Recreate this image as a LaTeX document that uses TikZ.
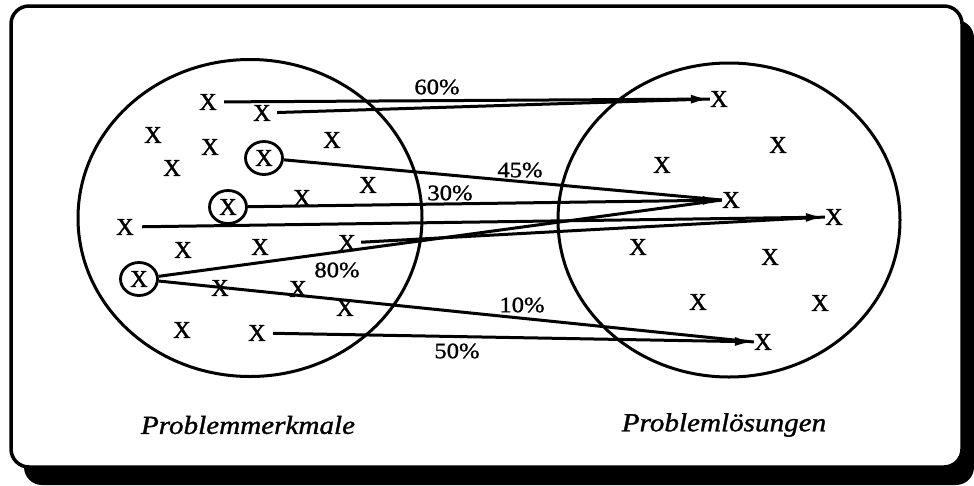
\documentclass[tikz,border=0pt]{standalone}
\usepackage{fontspec}
\setmainfont{Liberation Serif}
\newfontfamily\labfont{Liberation Serif}[FakeStretch=1.12,FakeBold=1.2]
\newfontfamily\xfont{Liberation Serif}[FakeBold=1.6]
\usetikzlibrary{shapes.geometric,arrows.meta}
\begin{document}
\begin{tikzpicture}[x=1pt,y=-1pt,
  xm/.style={inner sep=0.3pt, font=\xfont\fontsize{24}{24}\selectfont},
  cx/.style={xm, draw, ellipse, line width=2.8pt, minimum width=37pt, minimum height=33pt},
  setshape/.style={draw, ellipse, line width=3pt, inner sep=0pt},
  conn/.style={line width=3pt, -{Latex[length=19pt,width=9pt]}},
  feed/.style={line width=3pt},
  pct/.style={font=\labfont\fontsize{22}{22}\selectfont, inner sep=0pt},
  ttl/.style={font=\labfont\itshape\fontsize{26}{26}\selectfont, inner sep=0pt}
]
\useasboundingbox (0,0) rectangle (974,485);
% frame with shadow
\fill[black, rounded corners=18pt] (24,20) rectangle (974,485);
\draw[line width=3.5pt, fill=white, rounded corners=18pt] (11,6) rectangle (962,467);

% sets
\node[setshape, minimum width=344pt, minimum height=317pt] (setL) at (250,218) {};
\node[setshape, minimum width=342pt, minimum height=314pt] (setR) at (729,220) {};

% left X's
\node[xm] (x1) at (208,102) {X};
\node[xm] (x2) at (262,113) {X};
\node[xm] (x3) at (153,135) {X};
\node[xm] (x4) at (210,147) {X};
\node[xm] (x5) at (172,168) {X};
\node[cx] (x6) at (264,158) {X};
\node[xm] (x7) at (332,140) {X};
\node[xm] (x8) at (368,185) {X};
\node[cx] (x9) at (228,207) {X};
\node[xm] (x10) at (302,198) {X};
\node[xm] (x11) at (125,227) {X};
\node[xm] (x12) at (183,250) {X};
\node[xm] (x13) at (260,247) {X};
\node[xm] (x14) at (347,243) {X};
\node[cx] (x15) at (139,279) {X};
\node[xm] (x16) at (220,288) {X};
\node[xm] (x17) at (298,289) {X};
\node[xm] (x18) at (345,308) {X};
\node[xm] (x19) at (182,330) {X};
\node[xm] (x20) at (257,333) {X};

% right X's
\node[xm] (r1) at (719,99) {X};
\node[xm] (r2) at (778,145) {X};
\node[xm] (r3) at (662,165) {X};
\node[xm] (r4) at (731,200) {X};
\node[xm] (r5) at (834,217) {X};
\node[xm] (r6) at (638,247) {X};
\node[xm] (r7) at (770,257) {X};
\node[xm] (r8) at (698,302) {X};
\node[xm] (r9) at (820,303) {X};
\node[xm] (r10) at (763,342) {X};

% connectors
\draw[conn, shorten <=7pt] (x1) -- (r1);
\draw[feed, shorten <=6pt] (x2) -- (r1.west);
\draw[feed] (x6) -- (r4.west);
\draw[conn] (x9) -- (r4);
\draw[feed] (x15) -- (r4.west);
\draw[conn, shorten <=8pt] (x11) -- (r5);
\draw[feed, shorten <=5pt] (x14) -- (r5.west);
\draw[feed] (x15) -- (r10.west);
\draw[conn, shorten <=7pt] (x20) -- (r10);

% percentages
\node[pct] (p60) at (437,87) {60\%};
\node[pct] (p45) at (520,170) {45\%};
\node[pct] (p30) at (450,193) {30\%};
\node[pct] (p80) at (337,270) {80\%};
\node[pct] (p10) at (522,305) {10\%};
\node[pct] (p50) at (457,351) {50\%};

% titles
\node[ttl] (tL) at (248,425) {Problemmerkmale};
\node[ttl] (tR) at (724,425) {Problemlösungen};
\end{tikzpicture}
\end{document}
